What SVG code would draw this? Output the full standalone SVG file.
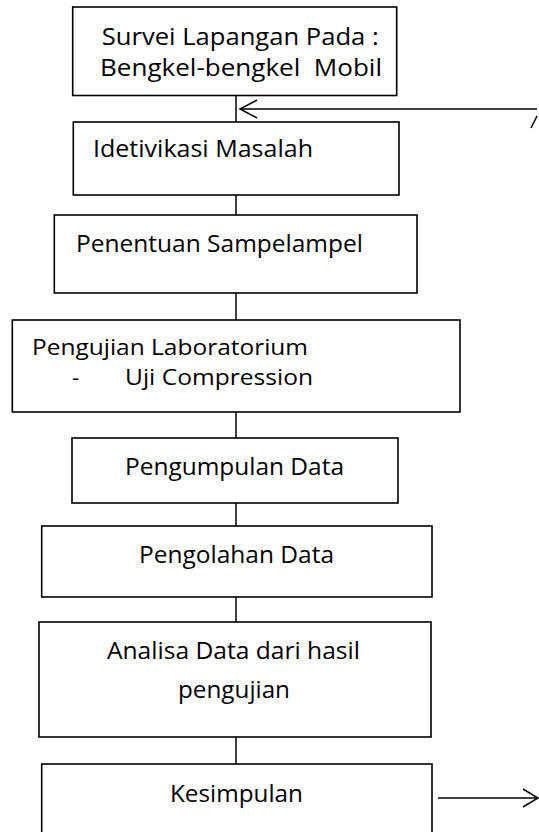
<svg xmlns="http://www.w3.org/2000/svg" width="539" height="832" viewBox="0 0 539 832">
<style>
.box{fill:#fff;stroke:#000;stroke-width:1.6}
.ln{fill:none;stroke:#000;stroke-width:1.5}
text{font-family:"Open Sans","Noto Sans","DejaVu Sans",sans-serif;font-size:24px;fill:#000}
.sm{font-size:22px}
</style>
<rect width="539" height="832" fill="#fff"/>
<g id="connectors">
<line class="ln" x1="236" y1="95" x2="236" y2="122"/>
<line class="ln" x1="236" y1="195" x2="236" y2="215"/>
<line class="ln" x1="236" y1="293" x2="236" y2="320"/>
<line class="ln" x1="236" y1="412" x2="236" y2="438"/>
<line class="ln" x1="236" y1="503" x2="236" y2="526"/>
<line class="ln" x1="236" y1="597" x2="236" y2="622"/>
<line class="ln" x1="236" y1="737" x2="236" y2="768"/>
<line class="ln" x1="240" y1="109" x2="537" y2="109"/>
<polyline class="ln" points="257,100 240,109 257,118"/>
<line class="ln" x1="531" y1="128" x2="537" y2="116"/>
<line class="ln" x1="438" y1="798" x2="538" y2="798"/>
<polyline class="ln" points="523,789 538,798 523,807"/>
</g>
<g id="n1">
<rect class="box" x="72.7" y="7" width="324" height="88.5"/>
<text x="101.7" y="45" textLength="277" lengthAdjust="spacingAndGlyphs">Survei Lapangan Pada :</text>
<text x="100" y="76" textLength="282" lengthAdjust="spacingAndGlyphs" xml:space="preserve">Bengkel-bengkel  Mobil</text>
</g>
<g id="n2">
<rect class="box" x="73.3" y="122" width="325.7" height="73"/>
<text x="93" y="157" textLength="220" lengthAdjust="spacingAndGlyphs">Idetivikasi Masalah</text>
</g>
<g id="n3">
<rect class="box" x="54.3" y="215" width="362.7" height="78"/>
<text x="76" y="252" textLength="287" lengthAdjust="spacingAndGlyphs">Penentuan Sampelampel</text>
</g>
<g id="n4">
<rect class="box" x="12.3" y="320" width="447.7" height="92"/>
<text class="sm" x="32" y="355" textLength="276" lengthAdjust="spacingAndGlyphs">Pengujian Laboratorium</text>
<text class="sm" x="72" y="385">-</text>
<text class="sm" x="125" y="385" textLength="188" lengthAdjust="spacingAndGlyphs">Uji Compression</text>
</g>
<g id="n5">
<rect class="box" x="72" y="438" width="326" height="65"/>
<text x="125" y="475" textLength="219" lengthAdjust="spacingAndGlyphs">Pengumpulan Data</text>
</g>
<g id="n6">
<rect class="box" x="41.7" y="526" width="390.3" height="71"/>
<text x="139" y="563" textLength="195" lengthAdjust="spacingAndGlyphs">Pengolahan Data</text>
</g>
<g id="n7">
<rect class="box" x="39" y="622" width="392" height="115"/>
<text x="107" y="659" textLength="253" lengthAdjust="spacingAndGlyphs">Analisa Data dari hasil</text>
<text x="178" y="698" textLength="112" lengthAdjust="spacingAndGlyphs">pengujian</text>
</g>
<g id="n8">
<rect class="box" x="41.7" y="764" width="390.3" height="80"/>
<text x="170" y="802" textLength="133" lengthAdjust="spacingAndGlyphs">Kesimpulan</text>
</g>
</svg>
